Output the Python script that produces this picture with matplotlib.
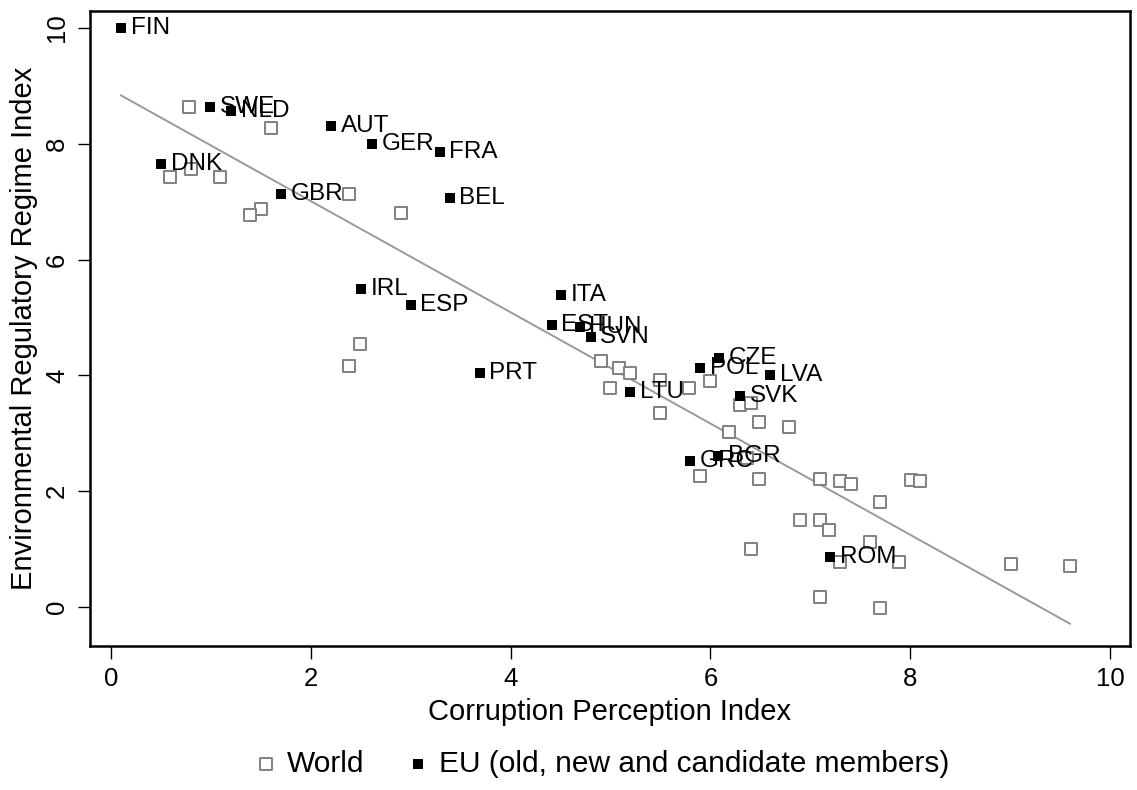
import numpy as np
import matplotlib
matplotlib.use("Agg")
import matplotlib.pyplot as plt

plt.rcParams["font.family"] = ["Liberation Sans", "DejaVu Sans"]

# World countries (hollow grey squares)
world_cpi = [0.78, 1.60, 0.59, 0.80, 1.09, 1.50, 1.39, 2.38, 2.90, 2.49, 2.38,
             4.90, 5.09, 5.20, 5.50, 5.00, 5.79, 6.00, 5.50, 6.30, 6.41, 6.49,
             6.79, 6.19, 6.37, 5.90, 6.49, 7.10, 7.30, 7.41, 8.01, 8.10, 7.70,
             6.90, 7.10, 7.19, 7.60, 6.41, 7.30, 7.89, 9.01, 9.60, 7.10, 7.70]
world_err = [8.64, 8.28, 7.43, 7.56, 7.43, 6.87, 6.77, 7.13, 6.81, 4.55, 4.16,
             4.25, 4.12, 4.04, 3.93, 3.79, 3.79, 3.91, 3.36, 3.49, 3.52, 3.20,
             3.11, 3.03, 2.57, 2.26, 2.22, 2.22, 2.18, 2.12, 2.20, 2.18, 1.82,
             1.50, 1.50, 1.33, 1.13, 1.00, 0.78, 0.78, 0.75, 0.71, 0.18, -0.02]

# EU old, new and candidate members (filled black squares)
eu_names = ["FIN", "SWE", "NLD", "AUT", "GER", "FRA", "BEL", "DNK", "GBR",
            "IRL", "ESP", "PRT", "ITA", "EST", "HUN", "SVN", "CZE", "POL",
            "LVA", "LTU", "SVK", "GRC", "BGR", "ROM"]
eu_cpi = [0.10, 0.99, 1.20, 2.20, 2.61, 3.29, 3.39, 0.50, 1.70,
          2.50, 3.00, 3.69, 4.50, 4.41, 4.69, 4.80, 6.09, 5.90,
          6.60, 5.20, 6.30, 5.80, 6.08, 7.20]
eu_err = [10.0, 8.64, 8.57, 8.31, 8.00, 7.85, 7.06, 7.65, 7.13,
          5.50, 5.22, 4.05, 5.39, 4.87, 4.83, 4.66, 4.30, 4.12,
          4.01, 3.72, 3.65, 2.52, 2.61, 0.86]

# fitted line
fit_intercept = 8.93
fit_slope = -0.96

fig = plt.figure(figsize=(11.37, 7.9), dpi=100)
ax = fig.add_axes([0.0792, 0.1823, 0.9146, 0.8037])

xs = np.array([min(world_cpi + eu_cpi), max(world_cpi + eu_cpi)])
ax.plot(xs, fit_intercept + fit_slope * xs, color="#999999", lw=1.4, zorder=1)

ax.scatter(world_cpi, world_err, marker="s", s=68, facecolors="white",
           edgecolors="#808080", linewidths=1.4, zorder=2, label="World")
ax.scatter(eu_cpi, eu_err, marker="s", s=52, color="black", linewidths=0,
           zorder=3, label="EU (old, new and candidate members)")
for name, x, y in zip(eu_names, eu_cpi, eu_err):
    ax.annotate(name, (x, y), xytext=(7, 0), textcoords="offset points",
                va="center", ha="left", fontsize=17.5, zorder=4)

ax.set_xlim(-0.21, 10.2)
ax.set_ylim(-0.67, 10.29)
ax.set_xticks([0, 2, 4, 6, 8, 10])
ax.set_yticks([0, 2, 4, 6, 8, 10])
ax.tick_params(axis="both", direction="out", length=9, width=1.0,
               labelsize=18.5, pad=6)
for lbl in ax.get_yticklabels():
    lbl.set_rotation(90)
    lbl.set_va("center")
for sp in ax.spines.values():
    sp.set_linewidth(1.8)

ax.set_xlabel("Corruption Perception Index", fontsize=21, labelpad=5)
ax.set_ylabel("Environmental Regulatory Regime Index", fontsize=21,
              labelpad=5)

fig.legend(loc="center", bbox_to_anchor=(0.528, 0.033), ncol=2,
           frameon=False, fontsize=21.5, handletextpad=0.2,
           columnspacing=1.3, handlelength=1.0)

fig.savefig("out.png", dpi=100)
